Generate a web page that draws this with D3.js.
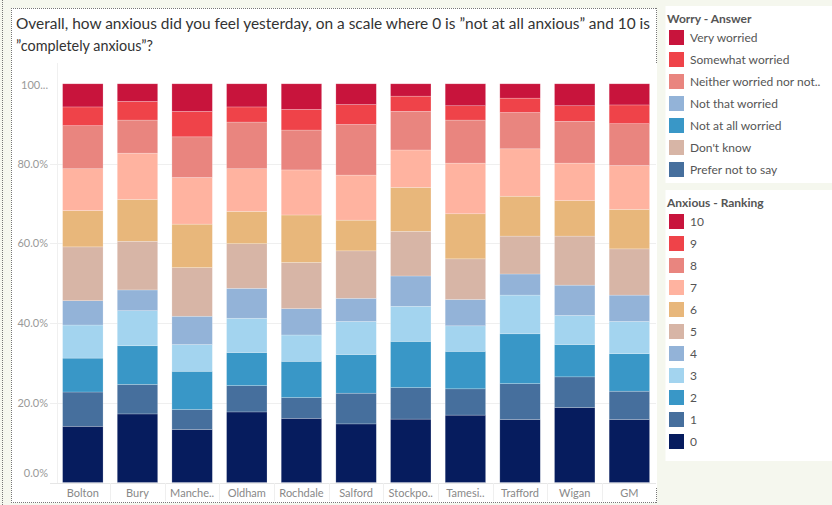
<!DOCTYPE html>
<html><head><meta charset="utf-8">
<script src="https://cdn.jsdelivr.net/npm/d3@7"></script>
<style>
html,body{margin:0;padding:0;background:#f5f7ee;}
svg{display:block;font-family:Lato,"Noto Sans",sans-serif;}
</style></head>
<body><svg id="c" width="832" height="505"></svg>
<script>
// ---- data ----
const categories = ["Bolton","Bury","Manchester","Oldham","Rochdale","Salford","Stockport","Tameside","Trafford","Wigan","GM"];
const tickLabels = ["Bolton","Bury","Manche..","Oldham","Rochdale","Salford","Stockpo..","Tamesi..","Trafford","Wigan","GM"];
const rankings = ["0","1","2","3","4","5","6","7","8","9","10"];
const rank0  = [14.1,17.2,13.3,17.7,16.1,14.7,15.9,16.9,15.8,18.8,15.8];
const rank1  = [8.6,7.4,5.0,6.6,5.2,7.7,7.9,6.6,9.0,7.7,7.1];
const rank2  = [8.5,9.7,9.6,8.3,9.1,9.7,11.6,9.4,12.5,8.1,9.4];
const rank3  = [8.3,8.8,6.7,8.6,6.6,8.3,8.8,6.4,9.7,7.3,8.1];
const rank4  = [6.1,5.2,7.1,7.5,6.6,5.8,7.6,6.6,5.3,7.6,6.6];
const rank5  = [13.5,12.2,12.2,11.2,11.6,11.9,11.2,10.2,9.5,12.3,11.6];
const rank6  = [9.1,10.5,10.9,8.1,11.9,7.7,11.0,11.3,10.0,8.9,9.9];
const rank7  = [10.5,11.6,11.7,10.7,11.3,11.3,9.4,12.7,11.9,9.4,11.0];
const rank8  = [10.8,8.3,10.2,11.7,10.0,12.7,9.7,10.8,9.1,10.5,10.5];
const rank9  = [4.7,4.7,6.4,3.8,5.2,5.0,3.8,3.6,3.6,3.9,4.7];
const rank10 = [5.8,4.4,6.9,5.8,6.4,5.2,3.1,5.5,3.6,5.5,5.3];
const rankColors = ["#061c5e","#466f9d","#3997c7","#a3d4ef","#93b3d8","#d7b5a6","#e8b77b","#ffb3a0","#e9857f","#ef4349","#c8143c"];
const worryAnswers = ["Very worried","Somewhat worried","Neither worried nor not..","Not that worried","Not at all worried","Don't know","Prefer not to say"];
const worryColors = ["#c8143c","#ef4349","#e9857f","#93b3d8","#3997c7","#d7b5a6","#466f9d"];
const yTicks = [0,0.2,0.4,0.6,0.8,1.0];
const yTickLabels = ["0.0%","20.0%","40.0%","60.0%","80.0%","100..."];
const titleLines = ["Overall, how anxious did you feel yesterday, on a scale where 0 is \u201dnot at all anxious\u201d and 10 is","\u201dcompletely anxious\u201d?"];

const rankValues = [rank0,rank1,rank2,rank3,rank4,rank5,rank6,rank7,rank8,rank9,rank10];
const table = categories.map((c,i)=>{const o={cat:c,label:tickLabels[i]};rankings.forEach((r,k)=>o[r]=rankValues[k][i]);return o;});

const svg = d3.select("#c");

// panels
svg.append("rect").attr("x",11).attr("y",8).attr("width",646).attr("height",495).attr("fill","#fff");
const dotted = {"stroke":"#777","stroke-width":1,"stroke-dasharray":"1,1","fill":"none"};
function dline(x1,y1,x2,y2){const l=svg.append("line").attr("x1",x1).attr("y1",y1).attr("x2",x2).attr("y2",y2);Object.entries(dotted).forEach(([k,v])=>l.attr(k,v));}
dline(2.5,0,2.5,505);
dline(11.5,8,11.5,503);
dline(11,8.5,657,8.5);
dline(656.5,8,656.5,63);
dline(656.5,488,656.5,503);
dline(11,502.5,657,502.5);

// title
svg.selectAll("text.title").data(titleLines).join("text").attr("class","title")
  .attr("x",16).attr("y",(d,i)=>29+i*22).attr("font-size",14.5).attr("fill","#333")
  .text(d=>d)
  .attr("textLength",(d,i)=> i===0 ? 634 : 137).attr("lengthAdjust","spacingAndGlyphs");

// scales
const x = d3.scaleBand().domain(categories).range([55.5,656.7]).paddingInner(0.26).paddingOuter(0.13);
const y = d3.scaleLinear().domain([0,1]).range([482.5,83.8]);

// y axis divider
svg.append("line").attr("x1",57.5).attr("x2",57.5).attr("y1",63).attr("y2",483).attr("stroke","#f0f0f0");
// grid
svg.append("g").selectAll("line").data(yTicks.filter(t=>t>0&&t<1)).join("line")
  .attr("x1",50).attr("x2",656).attr("y1",d=>Math.round(y(d))+0.5).attr("y2",d=>Math.round(y(d))+0.5)
  .attr("stroke","#efefef");
svg.append("line").attr("x1",50).attr("x2",656).attr("y1",483.5).attr("y2",483.5).attr("stroke","#e6e6e6");

// y axis
const yAxis = d3.axisLeft(y).tickValues(yTicks).tickFormat((d,i)=>yTickLabels[i]).tickSize(0).tickPadding(0);
const ga = svg.append("g").attr("transform","translate(48,0)").call(yAxis);
ga.select(".domain").remove();
ga.selectAll("text").attr("font-size",11).attr("fill","#999").attr("font-family","Lato,'Noto Sans',sans-serif")
  .attr("dy",(d)=> d===0 ? "-0.55em" : (d===1 ? "0.45em":"0.32em"));

// stacked bars
const stack = d3.stack().keys(rankings).offset(d3.stackOffsetExpand);
const series = stack(table);
svg.append("g").selectAll("g").data(series).join("g")
  .attr("fill",(d,i)=>rankColors[i])
  .selectAll("rect").data(d=>d).join("rect")
  .attr("x",d=>x(d.data.cat)).attr("width",x.bandwidth())
  .attr("y",d=>y(d[1])).attr("height",d=>y(d[0])-y(d[1]))
  .attr("stroke","rgba(255,255,255,0.35)").attr("stroke-width",0.6);

// x axis
const xAxis = d3.axisBottom(x).tickFormat((d,i)=>tickLabels[i]).tickSize(0).tickPadding(0);
const gx = svg.append("g").attr("transform","translate(0,489)").call(xAxis);
gx.select(".domain").remove();
gx.selectAll("text").attr("font-size",11).attr("fill","#888").attr("font-family","Lato,'Noto Sans',sans-serif");
// category separators
const step = x.step();
svg.append("g").selectAll("line").data(categories.slice(1)).join("line")
  .attr("x1",d=>Math.round(x(d)-(step-x.bandwidth())/2)+0.5).attr("x2",d=>Math.round(x(d)-(step-x.bandwidth())/2)+0.5)
  .attr("y1",483).attr("y2",501).attr("stroke","#efefef");

// legends
function legend(y0,h,title,labels,colors){
  svg.append("rect").attr("x",665.5).attr("y",y0).attr("width",170).attr("height",h).attr("fill","#fff");
  svg.append("text").attr("x",667).attr("y",y0+17).attr("font-size",12).attr("font-weight","bold").attr("fill","#555").text(title);
  const g = svg.append("g").selectAll("g").data(labels).join("g")
    .attr("transform",(d,i)=>`translate(669,${y0+24+i*22})`);
  g.append("rect").attr("width",15).attr("height",15).attr("fill",(d,i)=>colors[i]);
  g.append("text").attr("x",21).attr("y",12).attr("font-size",12).attr("fill","#555").text(d=>d);
}
legend(6,177,"Worry - Answer",worryAnswers,worryColors);
legend(190,271,"Anxious - Ranking",rankings.slice().reverse(),rankColors.slice().reverse());
</script></body></html>
